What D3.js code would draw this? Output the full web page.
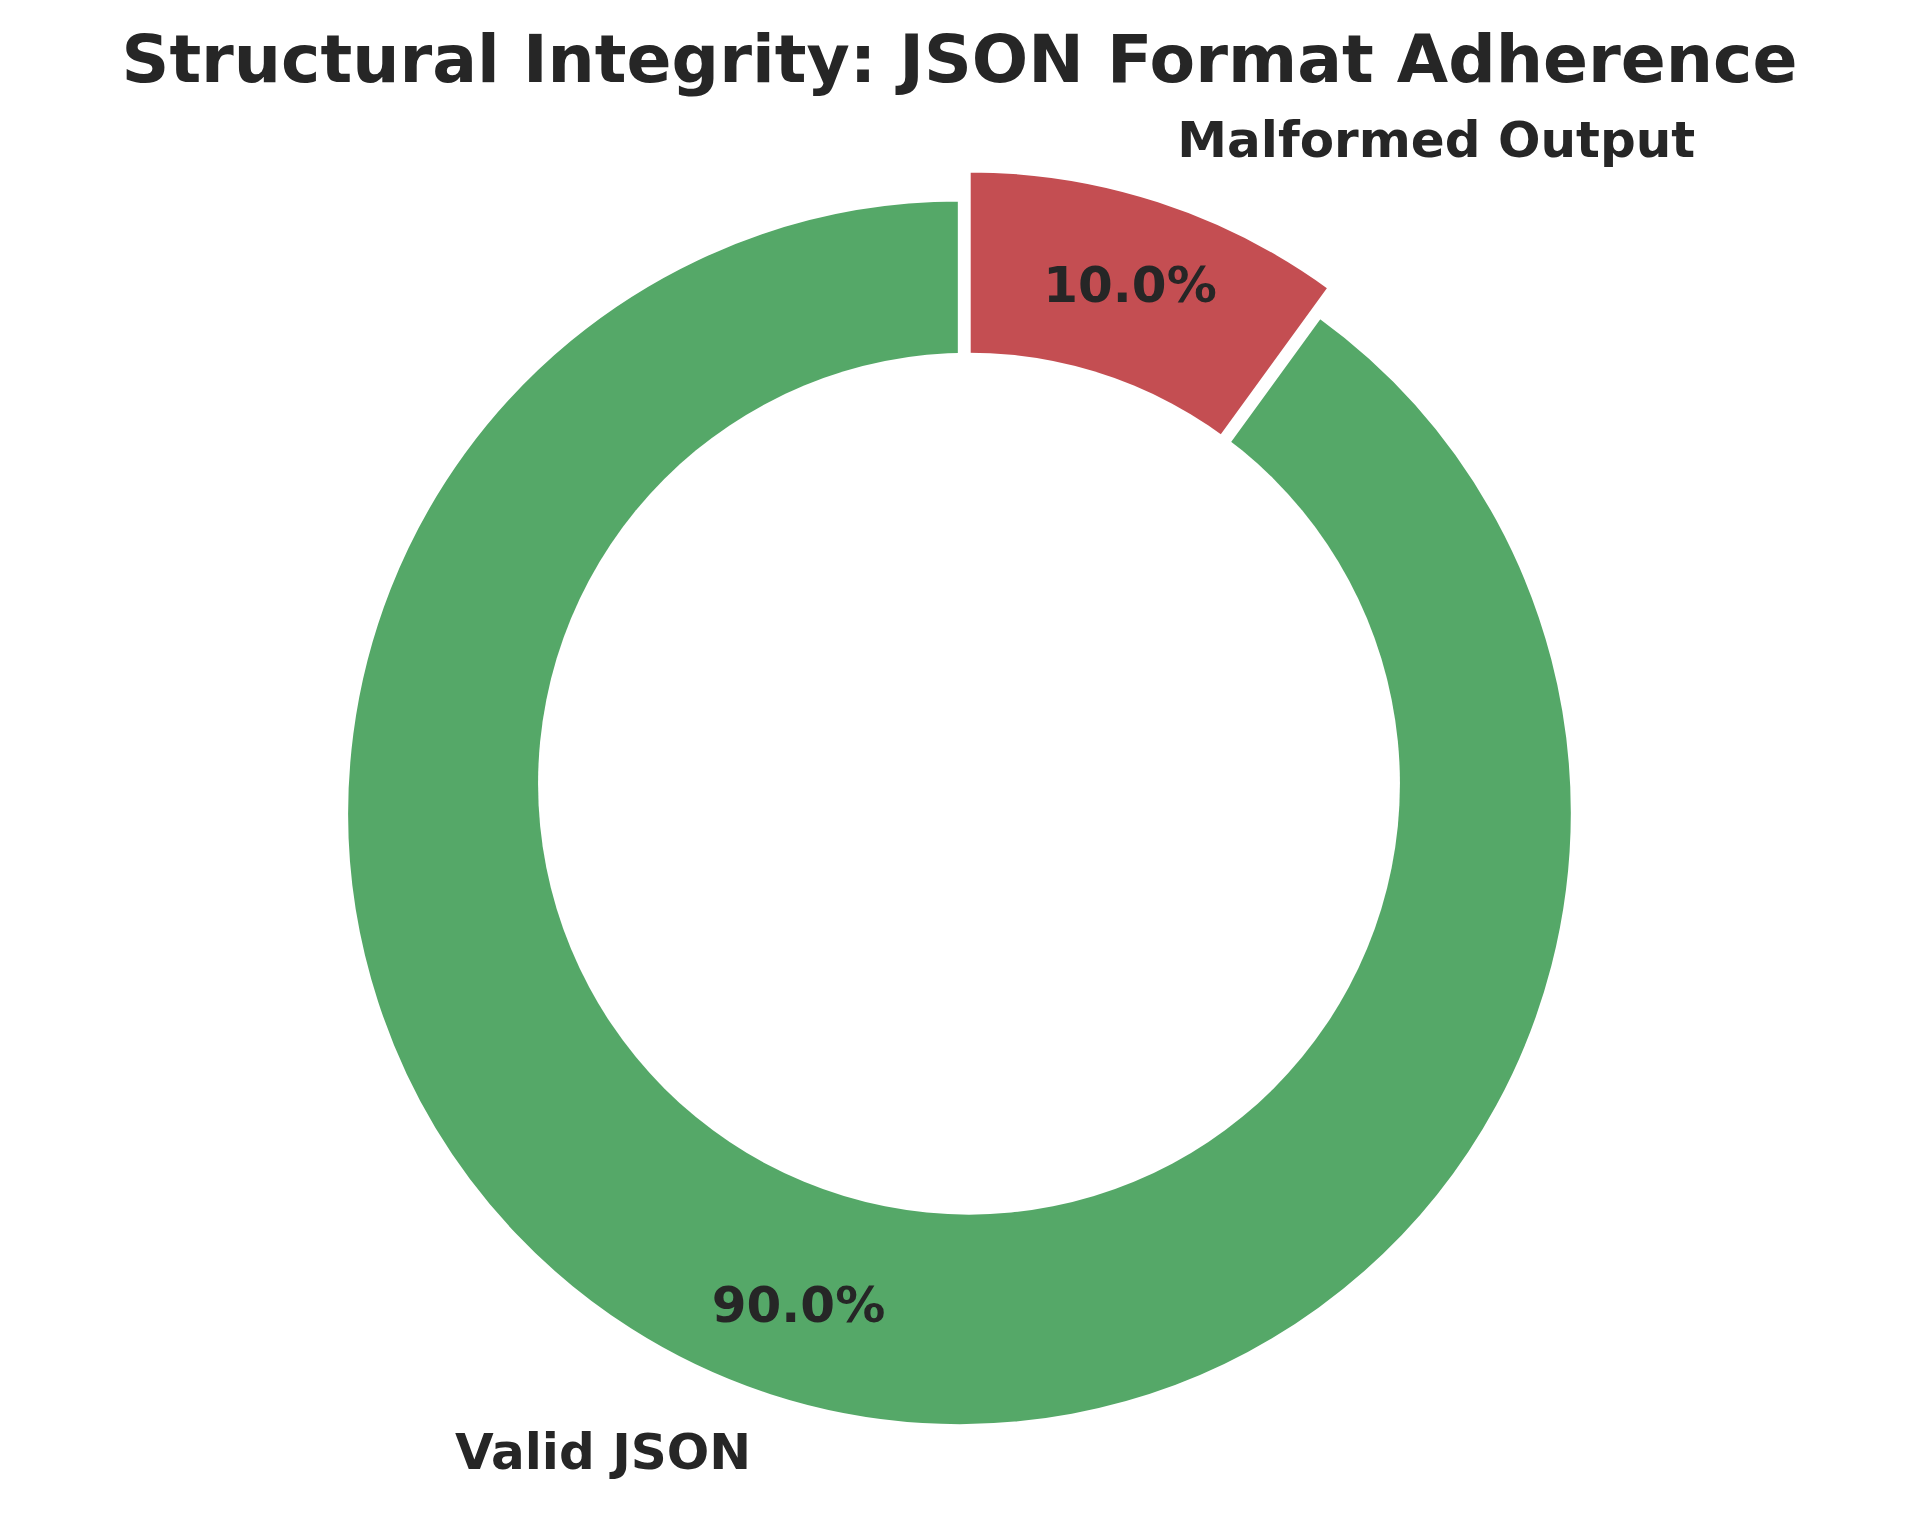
<!DOCTYPE html>
<html>
<head>
<meta charset="utf-8">
<script src="https://cdn.jsdelivr.net/npm/d3@7"></script>
<style>
    body { margin: 0; background: #fff; }
    svg text { font-family: "DejaVu Sans", sans-serif; font-weight: bold; fill: #262626; }
</style>
</head>
<body>
<div id="chart"></div>
<script>
var categories = ["Valid JSON", "Malformed Output"];
var values = [90, 10];
var titleText = "Structural Integrity: JSON Format Adherence";

var sliceColors = ["#55a868", "#c44e52"];
var explode = [0.05, 0];

var renderDonut = function ($location) {
    var w = 1919,
        h = 1523,
        cx = 969,
        cy = 783.7,
        r = 613,
        hole = 0.703,
        total = d3.sum(values),
        fmt = d3.format(".1f");

    var svg = d3.select($location)
        .append("svg")
        .attr("width", w)
        .attr("height", h);

    svg.append("rect")
        .attr("width", w)
        .attr("height", h)
        .attr("fill", "#fff");

    // counter-clockwise from 12 o'clock, like matplotlib startangle=90
    var pie = d3.pie()
        .sort(null)
        .startAngle(0)
        .endAngle(-2 * Math.PI)
        .value(function (d) { return d; });

    var arcs = pie(values);

    var arc = d3.arc()
        .innerRadius(0)
        .outerRadius(r);

    var mid = function (d) { return (d.startAngle + d.endAngle) / 2; };
    var along = function (d, dist) {
        var a = mid(d);
        return [Math.sin(a) * dist, -Math.cos(a) * dist];
    };

    var g = svg.append("g")
        .attr("transform", "translate(" + cx + "," + cy + ")");

    g.selectAll("path.slice")
        .data(arcs)
        .enter()
        .append("path")
        .attr("class", "slice")
        .attr("d", arc)
        .attr("transform", function (d, i) {
            var p = along(d, explode[i] * r);
            return "translate(" + p[0] + "," + p[1] + ")";
        })
        .attr("fill", function (d, i) { return sliceColors[i]; })
        .attr("stroke", "#fff")
        .attr("stroke-width", 3.4)
        .attr("stroke-linejoin", "miter");

    g.append("circle")
        .attr("r", r * hole)
        .attr("fill", "#fff");

    g.selectAll("text.pct")
        .data(arcs)
        .enter()
        .append("text")
        .attr("class", "pct")
        .text(function (d) { return fmt(d.value / total * 100) + "%"; })
        .attr("x", function (d, i) { return along(d, (0.85 + explode[i]) * r)[0]; })
        .attr("y", function (d, i) { return along(d, (0.85 + explode[i]) * r)[1]; })
        .attr("dy", "0.28em")
        .attr("text-anchor", "middle")
        .attr("font-size", 50);

    g.selectAll("text.label")
        .data(arcs)
        .enter()
        .append("text")
        .attr("class", "label")
        .text(function (d, i) { return categories[i]; })
        .attr("x", function (d, i) { return along(d, (1.1 + explode[i]) * r)[0]; })
        .attr("y", function (d, i) { return along(d, (1.1 + explode[i]) * r)[1]; })
        .attr("dy", "0.3em")
        .attr("text-anchor", function (d, i) {
            return along(d, 1)[0] < 0 ? "end" : "start";
        })
        .attr("font-size", 50);

    svg.append("text")
        .text(titleText)
        .attr("x", 959.5)
        .attr("y", 81.5)
        .attr("text-anchor", "middle")
        .attr("font-size", 66.4);
};

renderDonut("#chart");
</script>
</body>
</html>
